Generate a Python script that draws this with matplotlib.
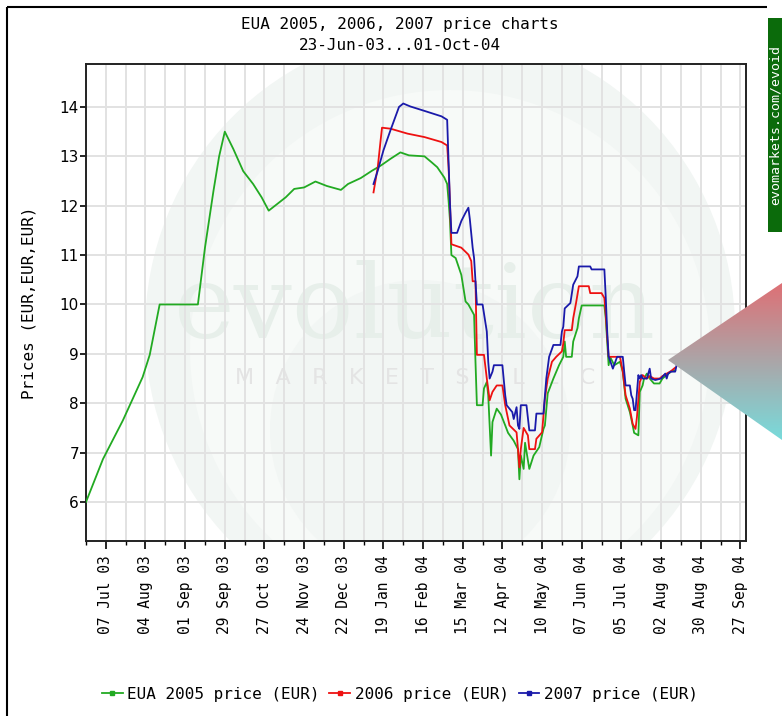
import numpy as np
import pandas as pd
import matplotlib
matplotlib.use("Agg")
import matplotlib.pyplot as plt
import matplotlib.dates as mdates
from matplotlib.patches import Ellipse, Polygon, Rectangle
from matplotlib.lines import Line2D

# ---- data ----
eua2005_dates = [
    "2003-06-23", "2003-07-05", "2003-07-19", "2003-08-02", "2003-08-07", "2003-08-14",
    "2003-09-10", "2003-09-15", "2003-09-21", "2003-09-25", "2003-09-29", "2003-10-05",
    "2003-10-12", "2003-10-19", "2003-10-25", "2003-10-30", "2003-11-11", "2003-11-17",
    "2003-11-24", "2003-12-02", "2003-12-10", "2003-12-20", "2003-12-25", "2004-01-03",
    "2004-01-11", "2004-01-17", "2004-01-24", "2004-01-31", "2004-02-06", "2004-02-17",
    "2004-02-22", "2004-02-26", "2004-03-02", "2004-03-04", "2004-03-05", "2004-03-06",
    "2004-03-07", "2004-03-10", "2004-03-14", "2004-03-17", "2004-03-19", "2004-03-23",
    "2004-03-24", "2004-03-25", "2004-03-29", "2004-03-30", "2004-04-01", "2004-04-02",
    "2004-04-04", "2004-04-05", "2004-04-08", "2004-04-11", "2004-04-14", "2004-04-16",
    "2004-04-20", "2004-04-23", "2004-04-24", "2004-04-25", "2004-04-27", "2004-04-28",
    "2004-05-01", "2004-05-04", "2004-05-08", "2004-05-11", "2004-05-12", "2004-05-14",
    "2004-05-18", "2004-05-22", "2004-05-25", "2004-05-26", "2004-05-27", "2004-05-31",
    "2004-06-01", "2004-06-04", "2004-06-05", "2004-06-07", "2004-06-23", "2004-06-24",
    "2004-06-25", "2004-06-26", "2004-06-27", "2004-06-30", "2004-07-04", "2004-07-06",
    "2004-07-07", "2004-07-08", "2004-07-11", "2004-07-13", "2004-07-14", "2004-07-17",
    "2004-07-18", "2004-07-20", "2004-07-21", "2004-07-23", "2004-07-25", "2004-07-28",
    "2004-08-01", "2004-08-03", "2004-08-06", "2004-08-09", "2004-08-12",
]
eua2005_prices = [
    6.0, 6.87, 7.65, 8.53, 8.98, 10.0,
    10.0, 11.15, 12.3, 13.0, 13.5, 13.15,
    12.7, 12.44, 12.17, 11.9, 12.17, 12.34,
    12.37, 12.49, 12.4, 12.32, 12.44, 12.56,
    12.71, 12.81, 12.95, 13.08, 13.02, 13.0,
    12.88, 12.78, 12.57, 12.44, 12.1, 11.7,
    11.0, 10.94, 10.6, 10.06, 10.0, 9.79,
    8.84, 7.96, 7.96, 8.3, 8.43, 8.16,
    6.94, 7.62, 7.89, 7.77, 7.55, 7.4,
    7.24, 7.07, 6.46, 6.94, 6.67, 7.2,
    6.67, 6.94, 7.11, 7.48, 7.55, 8.2,
    8.5, 8.77, 8.94, 9.25, 8.94, 8.94,
    9.25, 9.52, 9.72, 9.98, 9.98, 9.72,
    9.25, 8.77, 8.94, 8.77, 8.84, 8.64,
    8.36, 8.09, 7.82, 7.55, 7.4, 7.35,
    8.23, 8.36, 8.5, 8.6, 8.5, 8.4,
    8.4, 8.5, 8.57, 8.64, 8.67,
]

eua2006_dates = [
    "2004-01-12", "2004-01-15", "2004-01-17", "2004-01-18", "2004-01-24", "2004-02-05",
    "2004-02-17", "2004-02-29", "2004-03-04", "2004-03-05", "2004-03-06", "2004-03-07",
    "2004-03-14", "2004-03-19", "2004-03-21", "2004-03-22", "2004-03-24", "2004-03-25",
    "2004-03-30", "2004-04-01", "2004-04-03", "2004-04-05", "2004-04-08", "2004-04-12",
    "2004-04-14", "2004-04-17", "2004-04-22", "2004-04-23", "2004-04-24", "2004-04-25",
    "2004-04-27", "2004-04-30", "2004-05-01", "2004-05-05", "2004-05-06", "2004-05-10",
    "2004-05-12", "2004-05-14", "2004-05-17", "2004-05-20", "2004-05-24", "2004-05-25",
    "2004-05-26", "2004-05-31", "2004-06-01", "2004-06-03", "2004-06-05", "2004-06-12",
    "2004-06-13", "2004-06-21", "2004-06-23", "2004-06-24", "2004-06-25", "2004-06-26",
    "2004-07-04", "2004-07-06", "2004-07-07", "2004-07-08", "2004-07-11", "2004-07-13",
    "2004-07-15", "2004-07-16", "2004-07-18", "2004-07-20", "2004-07-23", "2004-07-25",
    "2004-07-28", "2004-08-01", "2004-08-03", "2004-08-06", "2004-08-09", "2004-08-12",
]
eua2006_prices = [
    12.27, 12.78, 13.32, 13.58, 13.56, 13.46,
    13.39, 13.29, 13.22, 12.78, 12.03, 11.22,
    11.15, 11.01, 10.88, 10.47, 10.47, 8.98,
    8.98, 8.5, 8.06, 8.23, 8.36, 8.36,
    7.96, 7.55, 7.41, 7.07, 6.7, 7.07,
    7.5, 7.35, 7.07, 7.07, 7.28, 7.41,
    8.09, 8.5, 8.84, 8.94, 9.05, 9.21,
    9.48, 9.48, 9.72, 10.03, 10.37, 10.37,
    10.23, 10.23, 10.13, 9.79, 9.35, 8.94,
    8.94, 8.64, 8.4, 8.16, 7.89, 7.58,
    7.48, 7.72, 8.43, 8.57, 8.5, 8.55,
    8.5, 8.5, 8.55, 8.6, 8.65, 8.72,
]

eua2007_dates = [
    "2004-01-12", "2004-01-15", "2004-01-19", "2004-01-24", "2004-01-30", "2004-02-02",
    "2004-02-07", "2004-02-17", "2004-02-29", "2004-03-04", "2004-03-06", "2004-03-07",
    "2004-03-11", "2004-03-14", "2004-03-17", "2004-03-19", "2004-03-20", "2004-03-22",
    "2004-03-23", "2004-03-24", "2004-03-25", "2004-03-29", "2004-04-01", "2004-04-02",
    "2004-04-03", "2004-04-05", "2004-04-06", "2004-04-12", "2004-04-14", "2004-04-15",
    "2004-04-19", "2004-04-20", "2004-04-22", "2004-04-23", "2004-04-24", "2004-04-25",
    "2004-04-29", "2004-05-01", "2004-05-05", "2004-05-06", "2004-05-11", "2004-05-13",
    "2004-05-15", "2004-05-18", "2004-05-23", "2004-05-24", "2004-05-25", "2004-05-26",
    "2004-05-30", "2004-06-01", "2004-06-04", "2004-06-05", "2004-06-13", "2004-06-14",
    "2004-06-23", "2004-06-24", "2004-06-25", "2004-06-26", "2004-06-29", "2004-07-02",
    "2004-07-06", "2004-07-07", "2004-07-08", "2004-07-11", "2004-07-12", "2004-07-13",
    "2004-07-14", "2004-07-15", "2004-07-17", "2004-07-18", "2004-07-19", "2004-07-20",
    "2004-07-23", "2004-07-25", "2004-07-26", "2004-07-29", "2004-08-02", "2004-08-05",
    "2004-08-06", "2004-08-07", "2004-08-09", "2004-08-12", "2004-08-13",
]
eua2007_prices = [
    12.44, 12.71, 13.12, 13.53, 14.0, 14.07,
    14.01, 13.92, 13.81, 13.74, 12.03, 11.45,
    11.45, 11.69, 11.86, 11.96, 11.73, 11.15,
    10.94, 10.47, 10.0, 10.0, 9.45, 8.84,
    8.5, 8.64, 8.77, 8.77, 8.16, 7.96,
    7.82, 7.68, 7.92, 7.55, 7.48, 7.96,
    7.96, 7.45, 7.45, 7.79, 7.79, 8.5,
    8.94, 9.18, 9.18, 9.45, 9.55, 9.92,
    10.03, 10.4, 10.57, 10.77, 10.77, 10.71,
    10.71, 10.13, 9.45, 8.95, 8.7, 8.94,
    8.94, 8.64, 8.36, 8.36, 8.16, 8.09,
    7.86, 7.86, 8.57, 8.5, 8.57, 8.5,
    8.5, 8.7, 8.5, 8.47, 8.5, 8.6,
    8.5, 8.6, 8.64, 8.64, 8.77,
]

series = [
    ("EUA 2005 price (EUR)", eua2005_dates, eua2005_prices, "#22aa22"),
    ("2006 price (EUR)", eua2006_dates, eua2006_prices, "#ee1111"),
    ("2007 price (EUR)", eua2007_dates, eua2007_prices, "#1a1aaa"),
]

W, H = 782, 716
MONO = "DejaVu Sans Mono"

fig = plt.figure(figsize=(W / 100, H / 100), dpi=100)
fig.patch.set_facecolor("white")

# overlay axes in pixel coordinates for decorations
deco = fig.add_axes([0, 0, 1, 1], zorder=0)
deco.set_xlim(0, W)
deco.set_ylim(H, 0)
deco.axis("off")

ax = fig.add_axes([86 / W, (H - 541) / H, 660 / W, 477 / H], zorder=1)
ax.patch.set_alpha(0)

# watermark
ax_wm = fig.add_axes(ax.get_position(), zorder=0.5)
ax_wm.set_xlim(86, 746)
ax_wm.set_ylim(541, 64)
ax_wm.axis("off")
ax_wm.add_patch(Ellipse((440, 330), 590, 600, facecolor="#f2f6f4", edgecolor="none"))
ax_wm.add_patch(Ellipse((450, 350), 520, 520, facecolor="#f7faf8", edgecolor="none"))
ax_wm.add_patch(Ellipse((420, 430), 300, 300, facecolor="#f2f6f4", edgecolor="none"))
ax_wm.text(415, 338, "evolution", fontsize=74, family="DejaVu Serif", color="#e7efea",
           ha="center", va="baseline")
ax_wm.text(415, 378, "M   A   R   K   E   T   S      L   L   C", fontsize=16,
           family="DejaVu Sans", color="#e4e4e4", ha="center", va="center")

for label, d, v, c in series:
    ax.plot(pd.to_datetime(d), v, color=c, lw=1.3, label=label, zorder=3)

ax.set_xlim(pd.Timestamp("2003-06-23"), pd.Timestamp("2004-10-01"))
ax.set_ylim(5.21, 14.87)

major = pd.date_range("2003-07-07", "2004-09-27", freq="28D")
minor = pd.date_range("2003-06-23", "2004-10-01", freq="14D")
ax.xaxis.set_major_locator(matplotlib.ticker.FixedLocator(mdates.date2num(major)))
ax.xaxis.set_minor_locator(matplotlib.ticker.FixedLocator(mdates.date2num(minor)))
ax.xaxis.set_major_formatter(mdates.DateFormatter("%d %b %y"))
ax.set_yticks(range(6, 15))

ax.grid(True, which="both", axis="x", color="#e2e2e2", lw=1.4, zorder=0)
ax.grid(True, which="major", axis="y", color="#e2e2e2", lw=1.4, zorder=0)
ax.set_axisbelow(True)

ax.tick_params(axis="x", which="major", length=6, width=1.2, direction="out",
               labelrotation=90, labelsize=10.5, pad=4)
ax.tick_params(axis="x", which="minor", length=3, width=1.0, direction="out")
ax.tick_params(axis="y", length=4, width=1.2, direction="out", labelsize=11, pad=1)
for t in ax.get_xticklabels():
    t.set_family(MONO)

for s in ax.spines.values():
    s.set_linewidth(1.4)
    s.set_color("#222222")

ax.set_ylabel("Prices (EUR,EUR,EUR)", family=MONO, fontsize=11.5)
ax.yaxis.set_label_coords(-0.075, 0.5)

fig.text(400 / W, 1 - 25 / H, "EUA 2005, 2006, 2007 price charts", family=MONO,
         fontsize=11.5, ha="center", va="center")
fig.text(400 / W, 1 - 45 / H, "23-Jun-03...01-Oct-04", family=MONO,
         fontsize=11.5, ha="center", va="center")

handles = [Line2D([], [], color=c, lw=1.3, marker="s", markersize=3) for _, _, _, c in series]
fig.legend(handles, [s[0] for s in series], loc="center", ncol=3,
           bbox_to_anchor=(400 / W, 1 - 694 / H), frameon=False,
           prop={"family": MONO, "size": 11.5}, handlelength=1.3,
           handletextpad=0.3, columnspacing=0.6)

# frame of the original picture
deco.plot([7, 767], [7, 7], color="black", lw=1.5, solid_capstyle="butt")
deco.plot([7, 7], [7, H], color="black", lw=1.5, solid_capstyle="butt")

# top overlay: green badge and gradient triangle
top = fig.add_axes([0, 0, 1, 1], zorder=5)
top.set_xlim(0, W)
top.set_ylim(H, 0)
top.axis("off")
top.patch.set_alpha(0)
top.add_patch(Rectangle((768, 18), 20, 214, facecolor="#0b6b0b", edgecolor="none"))
top.text(775.5, 125, "evomarkets.com/evoid", rotation=90, family=MONO, fontsize=9.5,
         color="white", ha="center", va="center")

tri = Polygon([(668, 360), (782, 283), (782, 440)], closed=True, facecolor="none",
              edgecolor="none")
top.add_patch(tri)
top_c = np.array([0.87, 0.44, 0.46])
bot_c = np.array([0.47, 0.86, 0.86])
t = np.linspace(0, 1, 200)[:, None]
grad = (1 - t) * top_c + t * bot_c
grad = np.repeat(grad[:, None, :], 2, axis=1)
im = top.imshow(grad, extent=(668, 782, 440, 283), aspect="auto", zorder=6)
im.set_clip_path(tri)
top.set_xlim(0, W)
top.set_ylim(H, 0)

fig.savefig("out.png", dpi=100)
